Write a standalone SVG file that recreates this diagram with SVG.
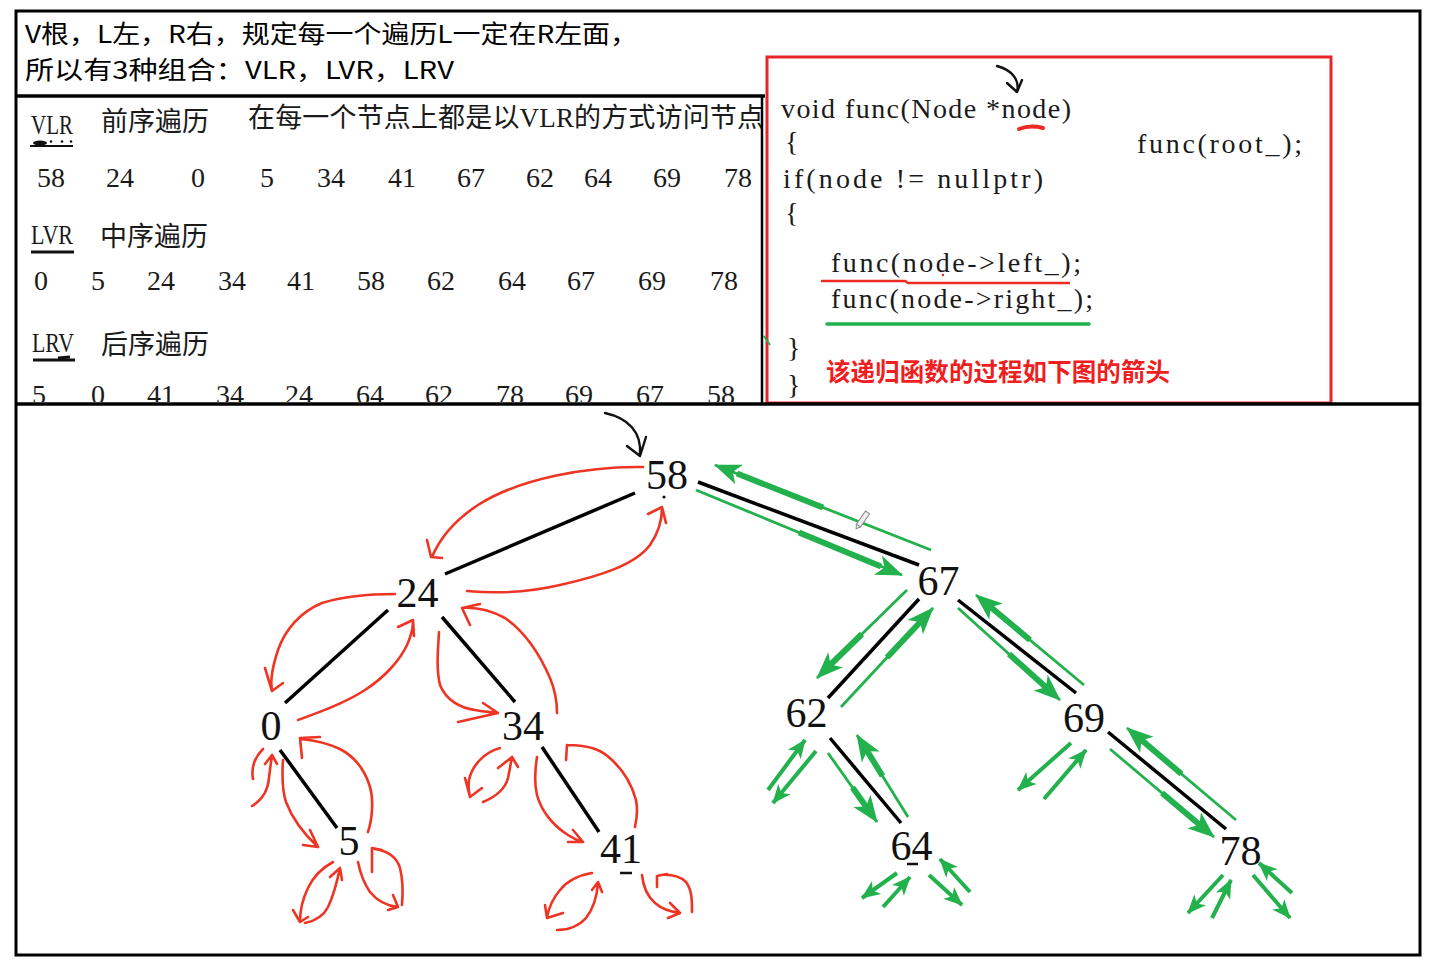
<svg xmlns="http://www.w3.org/2000/svg" width="1455" height="969" viewBox="0 0 1455 969">
<defs>
<style>
.hd{font-family:"Noto Sans CJK SC","Liberation Sans",sans-serif;font-size:24.5px;fill:#000}
.tb{font-family:"Liberation Serif","Noto Sans CJK SC",serif;font-size:27px;fill:#1a1a1a}
.num{font-family:"Liberation Serif",serif;font-size:28px;fill:#1a1a1a}
.code{font-family:"Liberation Serif",serif;font-size:28px;fill:#1a1a1a}
.note{font-family:"Noto Sans CJK SC",sans-serif;font-size:24.5px;font-weight:bold;fill:#f01e1e}
.nd{font-family:"Liberation Serif",serif;font-size:42px;fill:#111;text-anchor:middle}
.edge{stroke:#000;stroke-width:3.5;fill:none}
.rc{stroke:#ee3524;stroke-width:2.6;fill:none;stroke-linecap:round;stroke-linejoin:round}
.gt{stroke:#22b14c;stroke-width:2.8;fill:none}
.gk{stroke:#22b14c;stroke-width:6;fill:none}
.gs{stroke:#22b14c;stroke-width:4;fill:none}
.frm{stroke:#000;fill:none}
</style>
<marker id="ghL" viewBox="-27 -12 29 24" refX="0" refY="0" markerWidth="29" markerHeight="24" markerUnits="userSpaceOnUse" orient="auto"><path d="M1,0 L-26,-10.5 L-19,0 L-26,10.5 Z" fill="#22b14c"/></marker>
<marker id="ghS" viewBox="-19 -9 21 18" refX="0" refY="0" markerWidth="21" markerHeight="18" markerUnits="userSpaceOnUse" orient="auto"><path d="M1,0 L-18,-8 L-13,0 L-18,8 Z" fill="#22b14c"/></marker>
<clipPath id="lp"><rect x="18" y="98" width="743" height="304"/></clipPath>
</defs>
<rect x="0" y="0" width="1455" height="969" fill="#fff"/>

<g id="header">
<text class="hd" x="25" y="43" textLength="613" lengthAdjust="spacingAndGlyphs">V根，L左，R右，规定每一个遍历L一定在R左面，</text>
<text class="hd" x="25" y="79" textLength="429" lengthAdjust="spacingAndGlyphs">所以有3种组合：VLR，LVR，LRV</text>
</g>

<g id="traversal-table" clip-path="url(#lp)">
<text class="tb" x="31" y="134" textLength="42" lengthAdjust="spacingAndGlyphs">VLR</text>
<text class="tb" x="101" y="131">前序遍历</text>
<text class="tb" x="248" y="127" font-size="28" textLength="516">在每一个节点上都是以VLR的方式访问节点</text>
<g fill="#111"><path d="M30,146 L73,146" stroke="#111" stroke-width="2"/><ellipse cx="40" cy="143" rx="7" ry="2.5"/><circle cx="51" cy="141.5" r="1.3"/><circle cx="62" cy="141.5" r="1.3"/><circle cx="71" cy="141.5" r="1.3"/></g>
<text class="num" y="187"><tspan x="37">58</tspan><tspan x="106">24</tspan><tspan x="191">0</tspan><tspan x="260">5</tspan><tspan x="317">34</tspan><tspan x="388">41</tspan><tspan x="457">67</tspan><tspan x="526">62</tspan><tspan x="584">64</tspan><tspan x="653">69</tspan><tspan x="724">78</tspan></text>

<text class="tb" x="31" y="244" textLength="42" lengthAdjust="spacingAndGlyphs">LVR</text>
<text class="tb" x="100" y="246">中序遍历</text>
<path d="M31,252 L74,252" stroke="#111" stroke-width="3"/>
<text class="num" y="290"><tspan x="34">0</tspan><tspan x="91">5</tspan><tspan x="147">24</tspan><tspan x="218">34</tspan><tspan x="287">41</tspan><tspan x="357">58</tspan><tspan x="427">62</tspan><tspan x="498">64</tspan><tspan x="567">67</tspan><tspan x="638">69</tspan><tspan x="710">78</tspan></text>

<text class="tb" x="32" y="352" textLength="42" lengthAdjust="spacingAndGlyphs">LRV</text>
<text class="tb" x="101" y="354">后序遍历</text>
<path d="M33,360 L75,360" stroke="#111" stroke-width="3"/><path d="M58,358 L70,357" stroke="#111" stroke-width="3"/>
<text class="num" y="404"><tspan x="32">5</tspan><tspan x="91">0</tspan><tspan x="147">41</tspan><tspan x="216">34</tspan><tspan x="285">24</tspan><tspan x="356">64</tspan><tspan x="425">62</tspan><tspan x="496">78</tspan><tspan x="565">69</tspan><tspan x="636">67</tspan><tspan x="707">58</tspan></text>
</g>

<g id="code">
<rect x="767" y="57" width="564" height="346" fill="none" stroke="#e8262a" stroke-width="3"/>
<text class="code" x="781" y="118" textLength="290">void func(Node *node)</text>
<text class="code" x="785" y="151" font-size="31">{</text>
<text class="code" x="1137" y="153" textLength="165">func(root_);</text>
<text class="code" x="783" y="188" textLength="260">if(node != nullptr)</text>
<text class="code" x="785" y="222" font-size="31">{</text>
<text class="code" x="831" y="272" textLength="250">func(node->left_);</text>
<text class="code" x="831" y="308" textLength="262">func(node->right_);</text>
<text class="code" x="787" y="357" font-size="31">}</text>
<text class="code" x="787" y="394" font-size="31">}</text>
<text class="note" x="826" y="381" textLength="344">该递归函数的过程如下图的箭头</text>
<path d="M1019,129 C1027,126 1035,126 1043,128" stroke="#ee2a24" stroke-width="4" fill="none" stroke-linecap="round"/>
<path d="M821,281 L905,281 L908,283 L1070,283" stroke="#ee2a24" stroke-width="2.6" fill="none"/>
<circle cx="943" cy="275" r="1.2" fill="#ee2a24"/>
<path d="M827,324 L1089,324" stroke="#22b14c" stroke-width="3.5" stroke-linecap="round"/>
<path d="M997,66 C1012,70 1020,80 1017,92 M1007,83 L1017,92 L1022,80" stroke="#111" stroke-width="2.4" fill="none" stroke-linecap="round" stroke-linejoin="round"/>
<path d="M764,336 L770,345" stroke="#22b14c" stroke-width="2"/>
</g>

<g id="frame">
<rect class="frm" x="16" y="11" width="1404" height="944" stroke-width="3"/>
<path class="frm" d="M16,96 L765,96" stroke-width="3.5"/>
<path class="frm" d="M762,96 L762,404" stroke-width="2.5"/>
<path class="frm" d="M16,404 L1420,404" stroke-width="3.5"/>
</g>

<g id="connectors">
<g id="edges">
<path class="edge" d="M635,493 L445,574"/>
<path class="edge" d="M698,482 L919,565"/>
<path class="edge" d="M388,610 L285,703"/>
<path class="edge" d="M442,617 L515,702"/>
<path class="edge" d="M280,750 L337,828"/>
<path class="edge" d="M542,747 L599,832"/>
<path class="edge" d="M919,599 L828,698"/>
<path class="edge" d="M958,600 L1076,693"/>
<path class="edge" d="M830,738 L901,823"/>
<path class="edge" d="M1108,732 L1226,829"/>
</g>
<path d="M605,413 C628,418 642,432 640,455 M627,446 L640,456 L646,437" stroke="#111" stroke-width="2.4" fill="none" stroke-linecap="round" stroke-linejoin="round"/>
<g id="red-arrows">
<path class="rc" d="M643,467 C590,466 520,478 478,505 C455,520 440,538 432,557 M427,540 L431,557 L442,558"/>
<path class="rc" d="M467,591 C500,594 530,592 560,585 C600,576 635,565 650,545 C659,532 662,520 662,508 M648,514 L662,507 L666,523"/>
<path class="rc" d="M395,594 C370,594 345,596 322,603 C300,612 285,630 278,650 C272,668 270,680 272,690 M265,668 L272,691 L283,683"/>
<path class="rc" d="M298,720 C320,712 345,703 365,690 C385,677 400,660 407,645 C411,636 413,628 413,622 M398,627 L413,620 L414,636"/>
<path class="rc" d="M439,632 C438,650 436,668 440,685 C446,700 460,708 475,710 C485,712 492,712 498,713 M483,703 L498,713 L458,722"/>
<path class="rc" d="M557,713 C557,700 555,690 550,678 C540,655 525,632 505,618 C490,610 475,607 462,608 M480,604 L462,608 L470,625"/>
<path class="rc" d="M283,760 C282,775 282,790 286,802 C292,818 305,835 318,847 M310,830 L318,847 L303,845"/>
<path class="rc" d="M368,832 C372,820 374,800 370,787 C365,770 355,757 340,749 C325,742 312,740 300,739 M320,737 L300,738 L302,758"/>
<path class="rc" d="M263,749 C255,757 251,768 253,779 M252,806 C262,800 268,790 269,778 C270,768 271,762 272,756 M265,764 L272,755 L277,764"/>
<path class="rc" d="M500,748 C485,752 472,765 469,780 C468,788 469,793 470,797 M465,778 L470,797 L482,788"/>
<path class="rc" d="M483,802 C495,797 505,790 508,778 C510,768 511,762 512,757 M498,768 L512,757 L518,767"/>
<path class="rc" d="M333,862 C322,868 313,877 308,888 C302,900 300,912 300,922 M293,910 L300,922 L308,917"/>
<path class="rc" d="M305,923 C315,921 323,917 328,907 C334,895 337,882 340,868 M330,877 L340,868 L342,880"/>
<path class="rc" d="M358,862 C360,872 363,882 370,892 C378,902 388,906 398,907 M393,895 L398,907 L388,910"/>
<path class="rc" d="M402,905 C403,893 403,880 400,868 C397,858 388,851 375,849 M372,872 L372,848 L382,850"/>
<path class="rc" d="M537,757 C535,770 534,783 537,795 C541,810 552,825 568,835 C574,839 579,841 583,842 M573,830 L583,842 L568,842"/>
<path class="rc" d="M635,827 C637,818 638,810 636,800 C632,785 625,772 612,760 C602,750 590,745 567,745 M567,745 L566,760"/>
<path class="rc" d="M592,873 C580,875 568,880 560,890 C553,898 549,908 547,917 M545,905 L547,918 L563,913"/>
<path class="rc" d="M557,930 C567,930 578,927 586,918 C594,908 597,896 598,883 M592,890 L598,882 L602,892"/>
<path class="rc" d="M642,875 C643,885 646,895 655,903 C663,910 672,912 680,913 M670,903 L680,913 L668,918"/>
<path class="rc" d="M692,912 C692,900 692,890 686,882 C680,876 672,874 660,875 M657,887 L657,876 L667,874"/>
</g>
<g id="green-arrows">
<path class="gt" d="M696,490 L902,575" marker-end="url(#ghL)"/><path class="gk" d="M799,532.5 L881,566.5"/>
<path class="gt" d="M931,550 L715,465" marker-end="url(#ghL)"/><path class="gk" d="M823,507.5 L737,473.5"/>
<path class="gt" d="M907,590 L817,678" marker-end="url(#ghL)"/><path class="gk" d="M862,634 L826,669"/>
<path class="gt" d="M841,707 L933,608" marker-end="url(#ghL)"/><path class="gk" d="M887,657.5 L924,618"/>
<path class="gt" d="M958,608 L1060,700" marker-end="url(#ghL)"/><path class="gk" d="M1009,654 L1050,691"/>
<path class="gt" d="M1084,685 L976,595" marker-end="url(#ghL)"/><path class="gk" d="M1030,640 L987,604"/>
<path class="gt" d="M828,753 L877,822" marker-end="url(#ghL)"/><path class="gk" d="M852.5,787.5 L869.5,811.5"/>
<path class="gt" d="M908,817 L857,735" marker-end="url(#ghL)"/><path class="gk" d="M882.5,776 L865,747.5"/>
<path class="gt" d="M1110,749 L1214,837" marker-end="url(#ghL)"/><path class="gk" d="M1162,793 L1203.5,828"/>
<path class="gt" d="M1236,820 L1127,728" marker-end="url(#ghL)"/><path class="gk" d="M1181.5,774 L1138,737"/>
<path class="gs" d="M768,790 L805,740" marker-end="url(#ghS)"/>
<path class="gs" d="M816,751 L773,803" marker-end="url(#ghS)"/>
<path class="gs" d="M1071,743 L1018,790" marker-end="url(#ghS)"/>
<path class="gs" d="M1044,799 L1086,750" marker-end="url(#ghS)"/>
<path class="gs" d="M897,873 L862,898" marker-end="url(#ghS)"/>
<path class="gs" d="M883,907 L910,877" marker-end="url(#ghS)"/>
<path class="gs" d="M929,875 L962,905" marker-end="url(#ghS)"/>
<path class="gs" d="M970,892 L940,859" marker-end="url(#ghS)"/>
<path class="gs" d="M1223,875 L1188,913" marker-end="url(#ghS)"/>
<path class="gs" d="M1212,918 L1231,880" marker-end="url(#ghS)"/>
<path class="gs" d="M1253,875 L1290,918" marker-end="url(#ghS)"/>
<path class="gs" d="M1292,893 L1259,863" marker-end="url(#ghS)"/>
</g>
<g transform="translate(863,519) rotate(-55)" stroke="#888" stroke-width="1" fill="#eee"><rect x="-8" y="-2.5" width="16" height="5"/><path d="M-8,-2.5 L-12,0 L-8,2.5" fill="none"/></g>
</g>

<g id="node-58"><text class="nd" x="667" y="489">58</text><circle cx="664" cy="497" r="1.6" fill="#111"/></g>
<g id="node-24"><text class="nd" x="417.5" y="607">24</text></g>
<g id="node-0"><text class="nd" x="271" y="740">0</text></g>
<g id="node-34"><text class="nd" x="523" y="740">34</text></g>
<g id="node-5"><text class="nd" x="349" y="855">5</text></g>
<g id="node-41"><text class="nd" x="621" y="863">41</text><path d="M620,873 L632,873" stroke="#111" stroke-width="2.5"/></g>
<g id="node-67"><text class="nd" x="938.5" y="595">67</text></g>
<g id="node-62"><text class="nd" x="806.5" y="727">62</text></g>
<g id="node-69"><text class="nd" x="1084" y="732">69</text></g>
<g id="node-64"><text class="nd" x="911.5" y="860">64</text><path d="M907,864 L918,864" stroke="#111" stroke-width="2.5"/></g>
<g id="node-78"><text class="nd" x="1240.5" y="865">78</text></g>
</svg>
